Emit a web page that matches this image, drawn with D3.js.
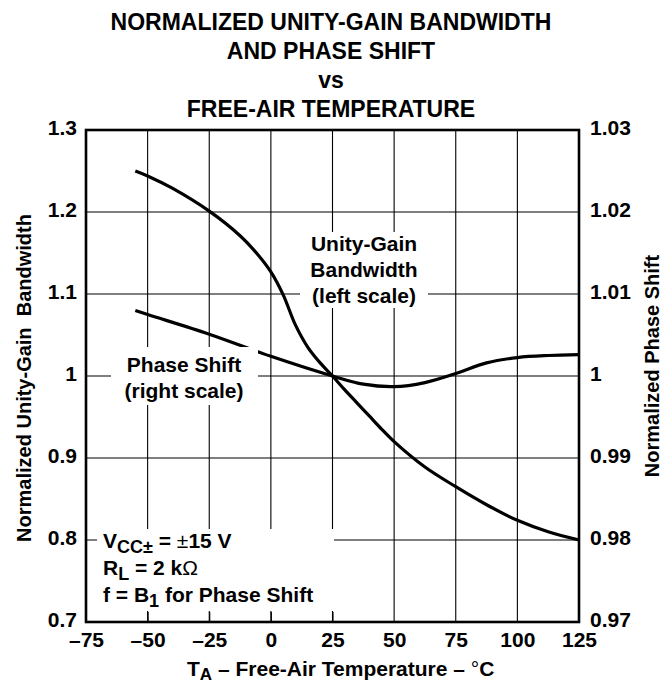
<!DOCTYPE html>
<html>
<head>
<meta charset="utf-8">
<script src="https://cdn.jsdelivr.net/npm/d3@7"></script>
<style>
  body { margin: 0; background: #fff; }
  text { font-family: "Liberation Sans", Arial, Helvetica, sans-serif; font-weight: bold; fill: #000; }
  .tick text { font-size: 21px; }
</style>
</head>
<body>
<div id="chart"></div>
<script>
// chart values
const titleLines = ["NORMALIZED UNITY-GAIN BANDWIDTH", "AND PHASE SHIFT", "vs", "FREE-AIR TEMPERATURE"];
const xTicks = [-75, -50, -25, 0, 25, 50, 75, 100, 125];
const leftTicks = [0.7, 0.8, 0.9, 1, 1.1, 1.2, 1.3];
const rightTicks = [0.97, 0.98, 0.99, 1, 1.01, 1.02, 1.03];

// unity-gain bandwidth (left scale)
const gainTemps  = [-55, -50, -40, -25, -12.5, -5, 0, 5, 10, 15, 20, 25, 30, 35, 40, 45, 50, 62.5, 75, 87.5, 100, 112.5, 125];
const gainValues = [1.250, 1.244, 1.229, 1.201, 1.171, 1.147, 1.127, 1.099, 1.062, 1.035, 1.016, 1.000, 0.983, 0.967, 0.951, 0.935, 0.920, 0.889, 0.865, 0.843, 0.824, 0.810, 0.800];

// phase shift (right scale)
const phaseTemps  = [-55, -50, -25, 0, 25, 37.5, 50, 62.5, 75, 87.5, 100, 112.5, 125];
const phaseValues = [1.0080, 1.0075, 1.0051, 1.0024, 1.0000, 0.9990, 0.9987, 0.9992, 1.0003, 1.0016, 1.00225, 1.0025, 1.0026];

const conditions = [
  [{t: "V"}, {t: "CC\u00B1", sub: true}, {t: " = "}, {t: "\u00B1", light: true}, {t: "15 V"}],
  [{t: "R"}, {t: "L", sub: true}, {t: " = 2 k"}, {t: "\u03A9", light: true}],
  [{t: "f = B"}, {t: "1", sub: true}, {t: " for Phase Shift"}]
];

const width = 664, height = 686;
const margin = {top: 130, right: 85, bottom: 64, left: 86};
const w = width - margin.left - margin.right;
const h = height - margin.top - margin.bottom;

const svg = d3.select("#chart").append("svg")
  .attr("width", width)
  .attr("height", height);

const x = d3.scaleLinear().domain([-75, 125]).range([0, w]);
const yLeft = d3.scaleLinear().domain([0.7, 1.3]).range([h, 0]);
const yRight = d3.scaleLinear().domain([0.97, 1.03]).range([h, 0]);

// title
svg.append("text")
  .attr("x", 331)
  .attr("text-anchor", "middle")
  .style("font-size", "23px")
  .selectAll("tspan").data(titleLines).join("tspan")
    .attr("x", 331)
    .attr("y", (d, i) => 30 + i * 29)
    .text(d => d);

const chart = svg.append("g")
  .attr("transform", `translate(${margin.left},${margin.top})`);

// grid
chart.append("g").selectAll("line")
  .data(xTicks.slice(1, -1)).join("line")
    .attr("x1", d => x(d)).attr("x2", d => x(d))
    .attr("y1", 0).attr("y2", h)
    .attr("stroke", "#000").attr("stroke-width", 1.1);

chart.append("g").selectAll("line")
  .data(leftTicks.slice(1, -1)).join("line")
    .attr("x1", 0).attr("x2", w)
    .attr("y1", d => yLeft(d)).attr("y2", d => yLeft(d))
    .attr("stroke", "#000").attr("stroke-width", 1.1);

// white patches behind the labels
const masks = [
  {x: 300, y: 232, w: 128, h: 76},
  {x: 111, y: 347, w: 147, h: 58},
  {x: 97, y: 529, w: 237, h: 82}
];
svg.append("g").selectAll("rect")
  .data(masks).join("rect")
    .attr("x", d => d.x).attr("y", d => d.y)
    .attr("width", d => d.w).attr("height", d => d.h)
    .attr("fill", "#fff");

// frame
chart.append("rect")
  .attr("width", w).attr("height", h)
  .attr("fill", "none").attr("stroke", "#000").attr("stroke-width", 2.6);

// curves
const gainLine = d3.line()
  .x(d => x(d[0])).y(d => yLeft(d[1]))
  .curve(d3.curveCatmullRom.alpha(0.5));
const phaseLine = d3.line()
  .x(d => x(d[0])).y(d => yRight(d[1]))
  .curve(d3.curveCatmullRom.alpha(0.5));

chart.append("path")
  .datum(d3.zip(gainTemps, gainValues))
  .attr("d", gainLine)
  .attr("fill", "none").attr("stroke", "#000").attr("stroke-width", 3.2);

chart.append("path")
  .datum(d3.zip(phaseTemps, phaseValues))
  .attr("d", phaseLine)
  .attr("fill", "none").attr("stroke", "#000").attr("stroke-width", 3.2);

// axes
const fmt = d3.format(".2~f");
const xFmt = d => d < 0 ? "\u2013" + (-d) : String(d);

function cleanAxis(g) {
  g.attr("font-size", null).attr("font-family", null);
  g.select(".domain").remove();
}

chart.append("g")
  .call(d3.axisLeft(yLeft).tickValues(leftTicks).tickFormat(fmt).tickSize(0).tickPadding(9))
  .call(cleanAxis)
  .selectAll("text").attr("dy", "0.2em");

chart.append("g")
  .attr("transform", `translate(${w},0)`)
  .call(d3.axisRight(yRight).tickValues(rightTicks).tickFormat(fmt).tickSize(0).tickPadding(11))
  .call(cleanAxis)
  .selectAll("text").attr("dy", "0.2em");

const xAxisG = chart.append("g")
  .attr("transform", `translate(0,${h})`)
  .call(d3.axisBottom(x).tickValues(xTicks).tickFormat(xFmt).tickSize(0).tickPadding(10))
  .call(cleanAxis);

// short ticks inside the bottom-left box
xAxisG.selectAll(".tick").filter(d => d > -75 && d < 50)
  .append("line")
    .attr("y2", -10).attr("stroke", "#000").attr("stroke-width", 1.1);

// axis titles
const xTitle = svg.append("text")
  .attr("x", 187).attr("y", 676)
  .style("font-size", "21px");
xTitle.append("tspan").text("T");
xTitle.append("tspan").attr("dy", 4).style("font-size", "17px").text("A");
xTitle.append("tspan").attr("dy", -4).text(" \u2013 Free-Air Temperature \u2013 ");
xTitle.append("tspan").style("font-weight", "normal").text("\u00B0");
xTitle.append("tspan").text("C");

svg.append("text")
  .attr("transform", "translate(31,378) rotate(-90)")
  .attr("text-anchor", "middle")
  .style("font-size", "20px")
  .style("white-space", "pre")
  .text("Normalized Unity-Gain  Bandwidth");

svg.append("text")
  .attr("transform", "translate(659,366) rotate(-90)")
  .attr("text-anchor", "middle")
  .style("font-size", "20px")
  .text("Normalized Phase Shift");

// curve labels
function block(cx, y0, lines, step) {
  svg.append("text")
    .attr("text-anchor", "middle")
    .style("font-size", "21px")
    .selectAll("tspan").data(lines).join("tspan")
      .attr("x", cx)
      .attr("y", (d, i) => y0 + i * step)
      .text(d => d);
}
block(364, 251, ["Unity-Gain", "Bandwidth", "(left scale)"], 26);
block(184, 372, ["Phase Shift", "(right scale)"], 26);

// test conditions
conditions.forEach((parts, i) => {
  const t = svg.append("text")
    .attr("x", 103).attr("y", 548 + i * 27)
    .style("font-size", "21px");
  let shifted = false;
  parts.forEach(p => {
    const s = t.append("tspan").text(p.t);
    if (p.sub && !shifted) { s.attr("dy", 5).style("font-size", "18px"); shifted = true; }
    else if (!p.sub && shifted) { s.attr("dy", -5); shifted = false; }
    if (p.light) s.style("font-weight", "normal");
  });
});
</script>
</body>
</html>
